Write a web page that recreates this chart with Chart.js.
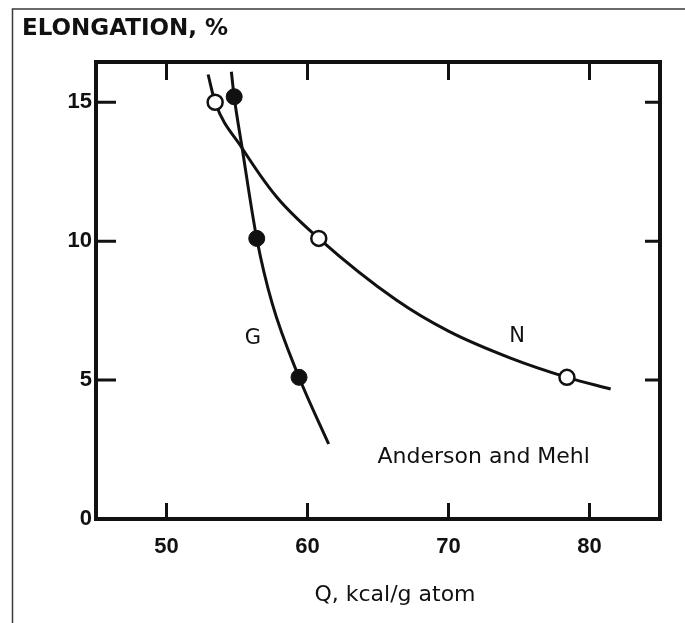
<!DOCTYPE html>
<html>
<head>
<meta charset="utf-8">
<script src="https://cdn.jsdelivr.net/npm/chart.js@4"></script>
<style>
  html, body { margin: 0; padding: 0; background: #fff; }
  canvas { display: block; }
</style>
</head>
<body>
<canvas id="myChart" width="685" height="623"></canvas>
<script>
const xTicks = [50, 60, 70, 80];
const yTicks = [0, 5, 10, 15];

// G: measured points (filled circles) and the hand-drawn curve through them
const gPoints = [
  { x: 54.8, y: 15.2 },
  { x: 56.4, y: 10.1 },
  { x: 59.4, y: 5.1 },
];
const gCurve = [
  { x: 54.6, y: 16.1 },
  { x: 55.35, y: 13.4 },
  { x: 57.5, y: 7.75 },
  { x: 61.5, y: 2.7 },
];

// N: measured points (open circles) and its curve
const nPoints = [
  { x: 53.45, y: 15.0 },
  { x: 60.8, y: 10.1 },
  { x: 78.4, y: 5.1 },
];
const nCurve = [
  { x: 52.95, y: 16.0 },
  { x: 55.3, y: 13.4 },
  { x: 57.8, y: 11.6 },
  { x: 66.3, y: 7.88 },
  { x: 70.0, y: 6.76 },
  { x: 74.4, y: 5.79 },
  { x: 81.5, y: 4.68 },
];

const byX = (a, b) => a.x - b.x;
const ink = "#111";

// box with inward ticks on all four sides, plus the page border
const frame = {
  id: "frame",
  beforeDraw(chart) {
    const ctx = chart.ctx;
    ctx.save();
    ctx.strokeStyle = "#3a3a3a";
    ctx.lineWidth = 1.5;
    ctx.beginPath();
    ctx.moveTo(12.5, chart.height);
    ctx.lineTo(12.5, 9);
    ctx.lineTo(chart.width, 9);
    ctx.stroke();
    ctx.restore();
  },
  afterDatasetsDraw(chart) {
    const { ctx, chartArea: a, scales: { x, y } } = chart;
    ctx.save();
    ctx.strokeStyle = ink;
    ctx.lineWidth = 4;
    ctx.strokeRect(a.left, a.top, a.right - a.left, a.bottom - a.top);
    ctx.lineWidth = 3;
    ctx.beginPath();
    xTicks.forEach((v) => {
      const px = x.getPixelForValue(v);
      ctx.moveTo(px, a.bottom);
      ctx.lineTo(px, a.bottom - 16);
      ctx.moveTo(px, a.top);
      ctx.lineTo(px, a.top + 18);
    });
    yTicks.forEach((v) => {
      const py = y.getPixelForValue(v);
      ctx.moveTo(a.left, py);
      ctx.lineTo(a.left + 20, py);
      ctx.moveTo(a.right, py);
      ctx.lineTo(a.right - 15, py);
    });
    ctx.stroke();

    // curve names and source note
    ctx.fillStyle = ink;
    ctx.textAlign = "center";
    ctx.textBaseline = "middle";
    ctx.font = "21px 'DejaVu Sans'";
    ctx.fillText("G", x.getPixelForValue(56.13), y.getPixelForValue(6.5));
    ctx.fillText("N", x.getPixelForValue(74.86), y.getPixelForValue(6.55));
    ctx.font = "22px 'DejaVu Sans'";
    ctx.fillText("Anderson and Mehl", x.getPixelForValue(72.5), y.getPixelForValue(2.23));

    // x axis title
    ctx.font = "22px 'DejaVu Sans'";
    ctx.fillText("Q, kcal/g atom", (a.left + a.right) / 2 + 17, 595);
    ctx.restore();
  },
};

const ctx = document.getElementById("myChart");

new Chart(ctx, {
  type: "line",
  data: {
    datasets: [
      {
        label: "G",
        data: gPoints,
        showLine: false,
        pointRadius: 8,
        pointBackgroundColor: ink,
        pointBorderColor: ink,
        pointBorderWidth: 1,
        order: 0,
      },
      {
        label: "N",
        data: nPoints,
        showLine: false,
        pointRadius: 7.5,
        pointBackgroundColor: "#fff",
        pointBorderColor: ink,
        pointBorderWidth: 2.5,
        order: 0,
      },
      {
        label: "G curve",
        data: [...gCurve, ...gPoints].sort(byX),
        borderColor: ink,
        borderWidth: 3,
        pointRadius: 0,
        cubicInterpolationMode: "monotone",
        order: 1,
      },
      {
        label: "N curve",
        data: [...nCurve, ...nPoints].sort(byX),
        borderColor: ink,
        borderWidth: 3,
        pointRadius: 0,
        cubicInterpolationMode: "monotone",
        order: 1,
      },
    ],
  },
  options: {
    responsive: false,
    animation: false,
    layout: {
      padding: { left: 22, right: 25, top: 0, bottom: 0 },
    },
    scales: {
      x: {
        type: "linear",
        min: 45,
        max: 85,
        grid: { display: false, drawTicks: false },
        border: { display: false },
        afterBuildTicks: (scale) => {
          scale.ticks = xTicks.map((v) => ({ value: v }));
        },
        afterFit: (scale) => {
          scale.height = 104;
        },
        ticks: {
          padding: 15,
          color: ink,
          font: { family: "'Liberation Sans'", size: 22, weight: "bold" },
        },
      },
      y: {
        type: "linear",
        min: 0,
        max: 16.45,
        grid: { display: false, drawTicks: false },
        border: { display: false },
        afterBuildTicks: (scale) => {
          scale.ticks = yTicks.map((v) => ({ value: v }));
        },
        afterFit: (scale) => {
          scale.width = 74;
        },
        ticks: {
          padding: 4,
          color: ink,
          font: { family: "'Liberation Sans'", size: 22, weight: "bold" },
        },
      },
    },
    plugins: {
      legend: { display: false },
      tooltip: { enabled: false },
      title: {
        display: true,
        text: "ELONGATION, %",
        align: "start",
        color: ink,
        font: { family: "'DejaVu Sans'", size: 23, weight: "bold" },
        padding: { top: 15.5, bottom: 18.9 },
      },
    },
  },
  plugins: [frame],
});
</script>
</body>
</html>
